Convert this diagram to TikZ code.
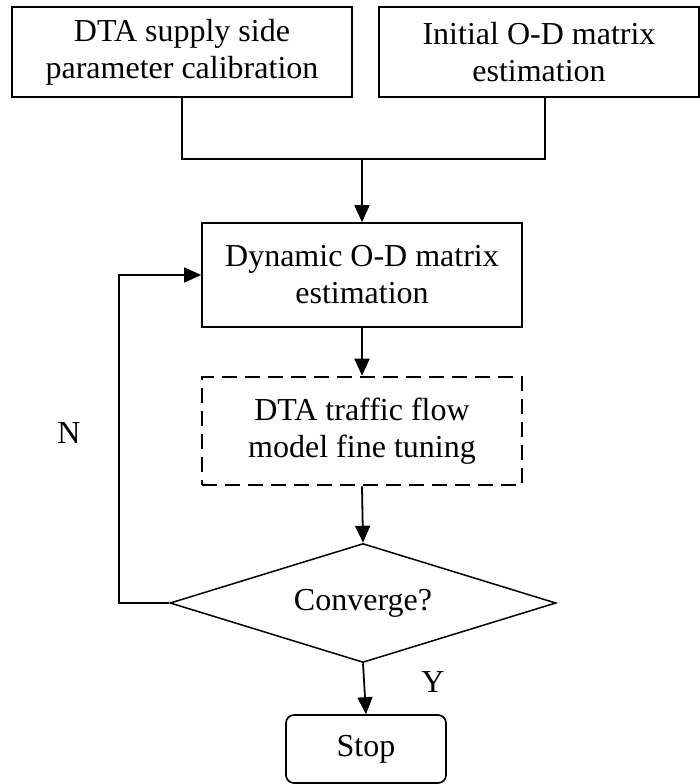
\documentclass[tikz,border=0pt]{standalone}
\usepackage{fontspec}
\setmainfont{Liberation Serif}
\usetikzlibrary{arrows.meta,shapes.geometric}
\begin{document}
\begin{tikzpicture}[x=1pt,y=-1pt,
  every node/.style={font=\fontsize{32}{37}\selectfont},
  box/.style={draw,line width=1.7pt,align=center,inner sep=0pt},
  link/.style={line width=1.8pt},
  arr/.style={link,-{Triangle[length=17pt,width=15pt]}}]
\useasboundingbox (0,0) rectangle (700,784);
% input boxes
\node[box,minimum width=340pt,minimum height=90pt] (supply) at (182,52)
  {DTA supply side\\parameter calibration};
\node[box,minimum width=320pt,minimum height=90pt] (init) at (539,52)
  {Initial O-D matrix\\estimation};
% main loop
\node[box,minimum width=320pt,minimum height=104pt] (dyn) at (362,275)
  {Dynamic O-D matrix\\estimation};
\node[box,dash pattern=on 15pt off 8pt,line width=2.6pt,
  minimum width=320pt,minimum height=108pt] (tune) at (362,431)
  {DTA traffic flow\\model fine tuning};
\node[draw,diamond,line width=1.5pt,inner sep=0pt,aspect=3.24,
  minimum width=386pt,minimum height=119pt] (conv) at (363,603) {Converge?};
\node[box,rounded corners=8pt,minimum width=160pt,minimum height=68pt] (stop) at (366,749) {Stop};
% branch labels
\node (nlab) at (69,433) {N};
\node (ylab) at (433,682) {Y};
% connectors
\coordinate (join) at (362,159);
\draw[link] (supply.south) -- (supply.south |- join)
  -- ([xshift=6pt]init.south |- join) -- ([xshift=6pt]init.south);
\draw[arr] (join) -- (dyn.north);
\draw[arr] (dyn.south) -- (tune.north);
\draw[arr] (tune.south) -- (conv.north);
\draw[arr] (conv.south) -- (stop.north);
\draw[arr] (conv.west) -- ++(-50,0) |- (dyn.west);
\end{tikzpicture}
\end{document}
